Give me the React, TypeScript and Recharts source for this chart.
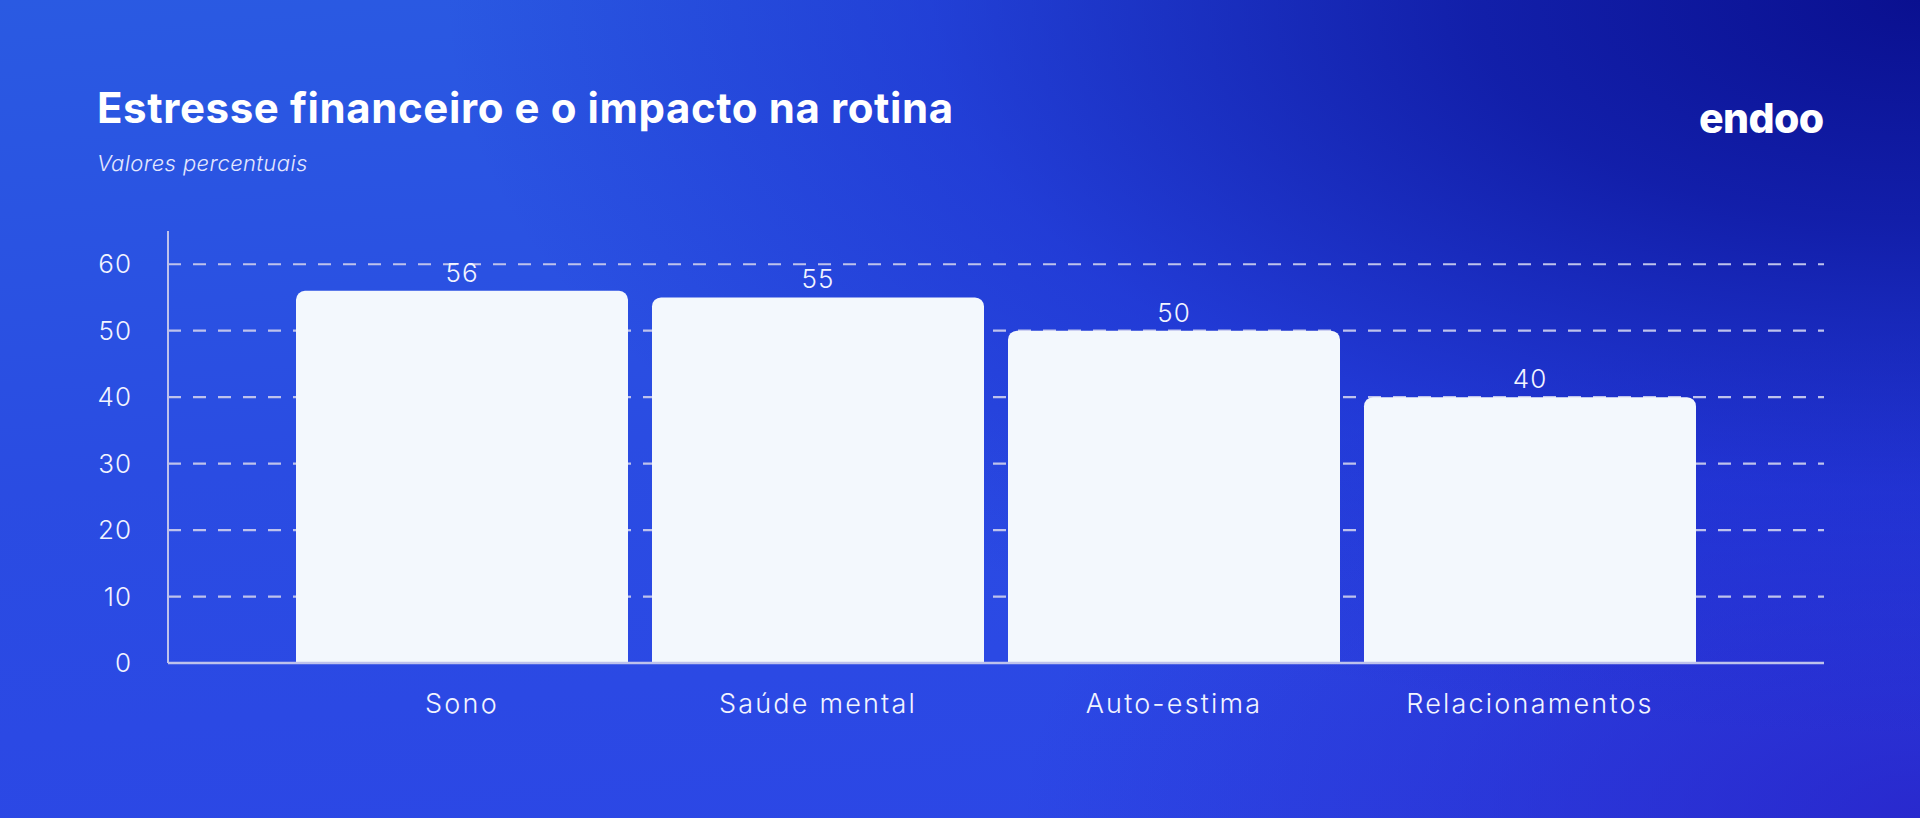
import React from 'react';
import { BarChart, Bar, XAxis, YAxis, CartesianGrid, LabelList } from 'recharts';

const categories = ['Sono', 'Saúde mental', 'Auto-estima', 'Relacionamentos'];
const values = [56, 55, 50, 40];
const yTicks = [0, 10, 20, 30, 40, 50, 60];

const data = categories.map((name, i) => ({ name, value: values[i] }));

const FONT = 'Inter, "Open Sans", sans-serif';
const AXIS = '#bec2ec';
const TEXT = '#f2f4ff';

export default function App() {
  return (
    <div
      style={{
        position: 'absolute',
        left: 0,
        top: 0,
        width: 1920,
        height: 818,
        overflow: 'hidden',
        fontFamily: FONT,
        background:
          'radial-gradient(ellipse 1800px 900px at 100% 0%, #0a1090 0%, rgba(14,22,160,0.85) 25%, rgba(24,36,200,0.45) 55%, rgba(30,40,210,0) 82%), radial-gradient(ellipse 900px 500px at 100% 100%, rgba(40,34,200,0.8) 0%, rgba(40,34,200,0) 100%), linear-gradient(175deg, #2a5ae2 0%, #2a4ce2 50%, #2c46e6 100%)',
      }}
    >
      <div
        style={{
          position: 'absolute',
          left: 97,
          top: 83,
          color: '#ffffff',
          fontSize: 42,
          fontWeight: 700,
          letterSpacing: 0.6,
          lineHeight: '50px',
        }}
      >
        Estresse financeiro e o impacto na rotina
      </div>
      <div
        style={{
          position: 'absolute',
          left: 97,
          top: 149,
          color: '#e4e8ff',
          fontSize: 22,
          fontWeight: 300,
          fontStyle: 'italic',
          letterSpacing: 0.4,
          lineHeight: '28px',
        }}
      >
        Valores percentuais
      </div>
      <div
        style={{
          position: 'absolute',
          left: 1699,
          top: 94,
          color: '#ffffff',
          fontSize: 41,
          fontWeight: 800,
          letterSpacing: -0.6,
          lineHeight: '48px',
        }}
      >
        endoo
      </div>

      <div style={{ position: 'absolute', left: 0, top: 0 }}>
        <BarChart
          width={1920}
          height={818}
          data={data}
          margin={{ top: 231, right: 96, bottom: 0, left: 0 }}
          barCategoryGap={12}
        >
          <CartesianGrid
            vertical={false}
            horizontalValues={[10, 20, 30, 40, 50, 60]}
            stroke={AXIS}
            strokeWidth={2.2}
            strokeDasharray="13 12"
          />
          <XAxis
            dataKey="name"
            height={155}
            padding={{ left: 116, right: 116 }}
            axisLine={{ stroke: AXIS, strokeWidth: 2.5 }}
            tickLine={false}
            tickMargin={25}
            tick={{ fill: TEXT, fontSize: 27, fontWeight: 300, fontFamily: FONT, letterSpacing: 2.2 }}
            interval={0}
          />
          <YAxis
            width={168}
            domain={[0, 65]}
            ticks={yTicks}
            axisLine={{ stroke: AXIS, strokeWidth: 2 }}
            tickLine={false}
            tickMargin={30}
            tick={{ fill: TEXT, fontSize: 26, fontWeight: 300, fontFamily: FONT, letterSpacing: 1 }}
          />
          <Bar dataKey="value" fill="#f3f8fd" radius={[9, 9, 0, 0]} isAnimationActive={false}>
            <LabelList
              dataKey="value"
              position="top"
              offset={9}
              fill={TEXT}
              fontSize={26}
              fontWeight={300}
              fontFamily={FONT}
              letterSpacing={1}
            />
          </Bar>
        </BarChart>
      </div>
    </div>
  );
}
